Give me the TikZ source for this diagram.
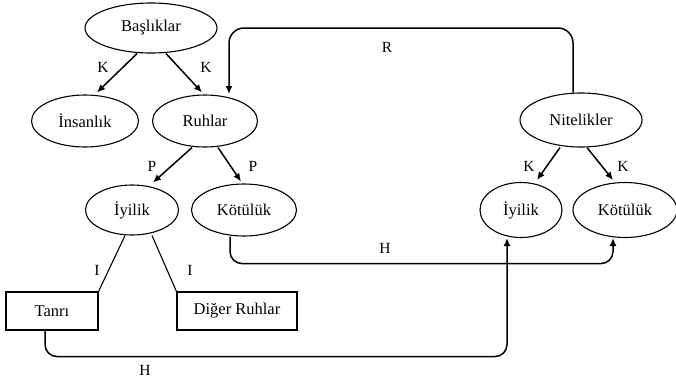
\documentclass[tikz,border=0pt]{standalone}
\usepackage{fontspec}
\setmainfont{Liberation Serif}
\usetikzlibrary{shapes.geometric,arrows.meta}
\begin{document}
\begin{tikzpicture}[x=1pt,y=-1pt,
  ell/.style={draw,ellipse,line width=1.1pt,inner sep=0pt,font=\fontsize{16.5}{18}\selectfont},
  boxn/.style={draw,rectangle,line width=1.1pt,inner sep=0pt,font=\fontsize{16.5}{18}\selectfont},
  arr/.style={line width=1.5pt,-{Latex[length=8pt,width=7pt]}},
  ln/.style={line width=1.1pt},
  lbl/.style={font=\fontsize{15.5}{17}\selectfont,inner sep=0pt}]
\useasboundingbox (0,0) rectangle (676,378);
\node[ell,minimum width=132pt,minimum height=50pt] (bas) at (151,28) {Başlıklar};
\node[ell,minimum width=107pt,minimum height=52pt] (ins) at (85,121) {İnsanlık};
\node[ell,minimum width=105pt,minimum height=52pt] (ruh) at (205,121) {Ruhlar};
\node[ell,minimum width=122pt,minimum height=54pt] (nit) at (581,120) {Nitelikler};
\node[ell,minimum width=93pt,minimum height=50pt] (iyL) at (132,210) {İyilik};
\node[ell,minimum width=105pt,minimum height=52pt] (kotL) at (244,210) {Kötülük};
\node[ell,minimum width=82pt,minimum height=55pt] (iyR) at (521,210) {İyilik};
\node[ell,minimum width=104pt,minimum height=55pt] (kotR) at (625,210) {Kötülük};
\node[boxn,minimum width=92pt,minimum height=38pt] (tan) at (52,311) {Tanrı};
\node[boxn,minimum width=120pt,minimum height=38pt] (dig) at (237,311) {Diğer Ruhlar};
% arrows
\draw[arr] ([xshift=-14]bas.south) -- ([xshift=12,yshift=2]ins.north);
\draw[arr] ([xshift=15]bas.south) -- ([xshift=-3,yshift=2]ruh.north);
\draw[arr] ([xshift=-13]ruh.south) -- ([xshift=21,yshift=2]iyL.north);
\draw[arr] ([xshift=13]ruh.south) -- ([xshift=-3,yshift=2]kotL.north);
\draw[arr] ([xshift=-21]nit.south) -- ([xshift=16,yshift=2]iyR.north);
\draw[arr] ([xshift=6]nit.south) -- ([xshift=-12,yshift=2]kotR.north);
\draw[ln] ([xshift=-7]iyL.south) -- (tan.north east);
\draw[ln] ([xshift=20]iyL.south) -- (dig.north west);
\coordinate (rend) at (229,94);
\draw[arr,rounded corners=15pt] ([xshift=-8]nit.north) |- (rend |- 0,28) -- (rend);
\draw[arr,rounded corners=12pt] ([xshift=-14]kotL.south) -- ++(0,27) -| ([xshift=-12]kotR.south);
\draw[arr,rounded corners=12pt] ([xshift=-7]tan.south) -- ++(0,26) -| ([xshift=-14]iyR.south);
% labels
\node[lbl] (k1) at (103,67) {K};
\node[lbl] (k2) at (206,67) {K};
\node[lbl] (p1) at (152,166) {P};
\node[lbl] (p2) at (253,166) {P};
\node[lbl] (i1) at (97,270) {I};
\node[lbl] (i2) at (190,270) {I};
\node[lbl] (r1) at (387,47) {R};
\node[lbl] (h1) at (385,248) {H};
\node[lbl] (h2) at (145,370) {H};
\node[lbl] (k3) at (529,166) {K};
\node[lbl] (k4) at (623,166) {K};
\end{tikzpicture}
\end{document}
